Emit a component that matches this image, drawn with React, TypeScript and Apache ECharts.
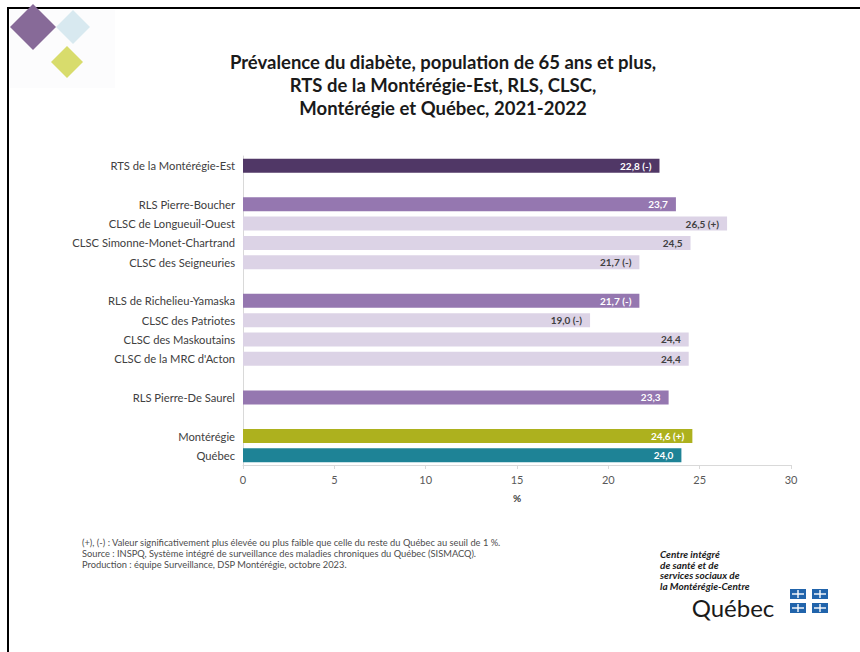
import React, { useEffect, useRef } from "react";
import * as echarts from "echarts";

const categories = [
  "RTS de la Montérégie-Est",
  "",
  "RLS Pierre-Boucher",
  "CLSC de Longueuil-Ouest",
  "CLSC Simonne-Monet-Chartrand",
  "CLSC des Seigneuries",
  " ",
  "RLS de Richelieu-Yamaska",
  "CLSC des Patriotes",
  "CLSC des Maskoutains",
  "CLSC de la MRC d'Acton",
  "  ",
  "RLS Pierre-De Saurel",
  "   ",
  "Montérégie",
  "Québec",
];
const values: (number | null)[] = [22.8, null, 23.7, 26.5, 24.5, 21.7, null, 21.7, 19.0, 24.4, 24.4, null, 23.3, null, 24.6, 24.0];
const flags = ["(-)", "", "", "(+)", "", "(-)", "", "(-)", "(-)", "", "", "", "", "", "(+)", ""];
const levels = ["rts", "", "rls", "clsc", "clsc", "clsc", "", "rls", "clsc", "clsc", "clsc", "", "rls", "", "mont", "qc"];
const xTicks = [0, 5, 10, 15, 20, 25, 30];

const levelColors: Record<string, string> = {
  rts: "#503766",
  rls: "#9577b0",
  clsc: "#dcd3e6",
  mont: "#adb11e",
  qc: "#1e8396",
};
const labelColors: Record<string, string> = {
  rts: "#ffffff",
  rls: "#ffffff",
  clsc: "#404040",
  mont: "#ffffff",
  qc: "#ffffff",
};

const titleLines = [
  "Prévalence du diabète, population de 65 ans et plus,",
  "RTS de la Montérégie-Est, RLS, CLSC,",
  "Montérégie et Québec, 2021-2022",
];
const notes = [
  "(+), (-) : Valeur significativement plus élevée ou plus faible que celle du reste du Québec au seuil de 1 %.",
  "Source : INSPQ, Système intégré de surveillance des maladies chroniques du Québec (SISMACQ).",
  "Production : équipe Surveillance, DSP Montérégie, octobre 2023.",
];
const orgLines = ["Centre intégré", "de santé et de", "services sociaux de", "la Montérégie-Centre"];

const FONT = "Lato, 'Open Sans', sans-serif";

export default function App() {
  const ref = useRef<HTMLDivElement>(null);
  useEffect(() => {
    if (!ref.current) return;
    const chart = echarts.init(ref.current, null, { renderer: "svg" });
    const fmt = (v: number) => v.toFixed(1).replace(".", ",");
    const data = values.map((v, i) =>
      v === null
        ? null
        : {
            value: v,
            itemStyle: { color: levelColors[levels[i]] },
            label: {
              color: labelColors[levels[i]],
              formatter: fmt(v) + (flags[i] ? " " + flags[i] : ""),
            },
          }
    );
    const diamond = (cx: number, cy: number, r: number, color: string) => ({
      type: "polygon",
      shape: { points: [[cx - r, cy], [cx, cy - r], [cx + r, cy], [cx, cy + r]] },
      style: { fill: color },
      silent: true,
    });
    const flag = (x: number, y: number) => ({
      type: "group",
      children: [
        { type: "rect", shape: { x, y, width: 16, height: 10 }, style: { fill: "#2164ab" } },
        { type: "rect", shape: { x: x + 7.3, y: y + 1, width: 1.4, height: 8 }, style: { fill: "#ffffff" } },
        { type: "rect", shape: { x: x + 2, y: y + 4.3, width: 12, height: 1.4 }, style: { fill: "#ffffff" } },
      ],
    });
    const graphics: any[] = [
      { type: "rect", shape: { x: 8, y: 8, width: 900, height: 700 }, style: { fill: "none", stroke: "#000", lineWidth: 2 }, silent: true },
      { type: "rect", shape: { x: 10, y: 10, width: 105, height: 78 }, style: { fill: "#fcfcfd" }, silent: true },
      diamond(73, 27, 17, "#d8e9f0"),
      diamond(33, 27, 23, "#876a98"),
      diamond(67, 62, 16, "#d8dc6c"),
      ...titleLines.map((t, i) => ({
        type: "text",
        x: 443,
        y: 62 + i * 23,
        style: { text: t, font: `bold 18.5px ${FONT}`, fill: "#1a1a1a", textAlign: "center", textVerticalAlign: "middle" },
      })),
      ...notes.map((t, i) => ({
        type: "text",
        x: 82,
        y: 542 + i * 11,
        style: { text: t, font: `9.3px ${FONT}`, fill: "#4d4d4d", textAlign: "left", textVerticalAlign: "middle" },
      })),
      ...orgLines.map((t, i) => ({
        type: "text",
        x: 660,
        y: 554 + i * 10.5,
        style: { text: t, font: `italic bold 10px ${FONT}`, fill: "#1a1a1a", textAlign: "left", textVerticalAlign: "middle" },
      })),
      {
        type: "text",
        x: 733,
        y: 607,
        style: { text: "Québec", font: `24px ${FONT}`, fill: "#1a1a1a", textAlign: "center", textVerticalAlign: "middle" },
      },
      flag(790, 589),
      flag(812, 589),
      flag(790, 603),
      flag(812, 603),
    ];

    chart.setOption({
      animation: false,
      textStyle: { fontFamily: FONT },
      grid: { left: 243, right: 69, top: 156, bottom: 187, containLabel: false },
      xAxis: {
        type: "value",
        min: 0,
        max: 30,
        interval: 5,
        splitLine: { show: false },
        axisLine: { show: true, lineStyle: { color: "#d9d9d9", width: 1 } },
        axisTick: { show: true, length: 4, lineStyle: { color: "#d9d9d9" } },
        axisLabel: { color: "#595959", fontSize: 11, margin: 9, formatter: (v: number) => (xTicks.includes(v) ? String(v) : "") },
        name: "%",
        nameLocation: "middle",
        nameGap: 28,
        nameTextStyle: { color: "#404040", fontSize: 10, fontWeight: "bold" },
      },
      yAxis: {
        type: "category",
        inverse: true,
        data: categories,
        axisLine: { show: true, lineStyle: { color: "#d9d9d9" } },
        axisTick: { show: false },
        axisLabel: { color: "#404040", fontSize: 11.2, margin: 8 },
      },
      series: [
        {
          type: "bar",
          data,
          barWidth: 14,
          label: { show: true, position: "insideRight", distance: 8, fontSize: 10, fontWeight: "bold" },
        },
      ],
      graphic: graphics,
    });
    return () => chart.dispose();
  }, []);
  return <div ref={ref} style={{ position: "absolute", left: 0, top: 0, width: 860, height: 652, background: "#fff" }} />;
}
